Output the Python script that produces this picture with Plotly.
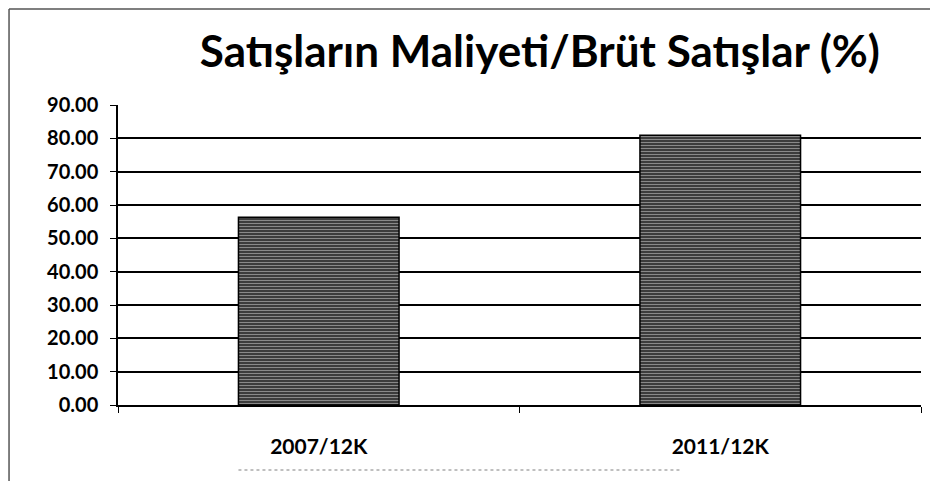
import plotly.graph_objects as go

categories = ["2007/12K", "2011/12K"]
values = [56.3, 80.9]
title_text = "Satışların Maliyeti/Brüt Satışlar (%)"

fig = go.Figure()
fig.add_trace(go.Bar(
    x=categories, y=values,
    marker=dict(color="#555555",
                line=dict(color="black", width=1.5),
                pattern=dict(shape="-", fgcolor="#f0f0f0", bgcolor="#222222",
                             size=3, solidity=0.5)),
    width=0.4,
))

fig.update_layout(
    width=938, height=481,
    margin=dict(l=110, r=25, t=97, b=84),
    paper_bgcolor="white", plot_bgcolor="white",
    showlegend=False,
    title=dict(text=title_text, x=0.567, xanchor="center", y=0.91, yanchor="middle",
               font=dict(family="Lato", size=44, color="black", weight="bold")),
    font=dict(family="Lato", color="black"),
)
fig.update_yaxes(range=[0, 90], dtick=10, tickformat=".2f",
                 showgrid=True, gridcolor="black", gridwidth=1.5,
                 showline=True, linecolor="black", linewidth=1.5,
                 ticks="outside", ticklen=6, tickcolor="black",
                 ticklabelstandoff=8,
                 tickfont=dict(size=20, family="Lato", weight="bold"),
                 zeroline=False)
fig.update_xaxes(showline=True, linecolor="black", linewidth=1.5,
                 ticks="outside", tickson="boundaries", ticklen=6, tickcolor="black",
                 ticklabelstandoff=22,
                 tickfont=dict(size=21, family="Lato", weight="bold"))

# frame lines
fig.add_shape(type="line", xref="paper", yref="paper", x0=-0.1357, x1=-0.1357, y0=-0.3, y1=1.32,
              line=dict(color="#555", width=1.5))
fig.add_shape(type="line", xref="paper", yref="paper", x0=-0.1357, x1=1.03, y0=1.32, y1=1.32,
              line=dict(color="#555", width=1.5))
fig.add_shape(type="line", xref="paper", yref="paper", x0=0.15, x1=0.70, y0=-0.217, y1=-0.217,
              line=dict(color="#aaaaaa", width=1.5, dash="dot"))

fig.write_html("out.html")
